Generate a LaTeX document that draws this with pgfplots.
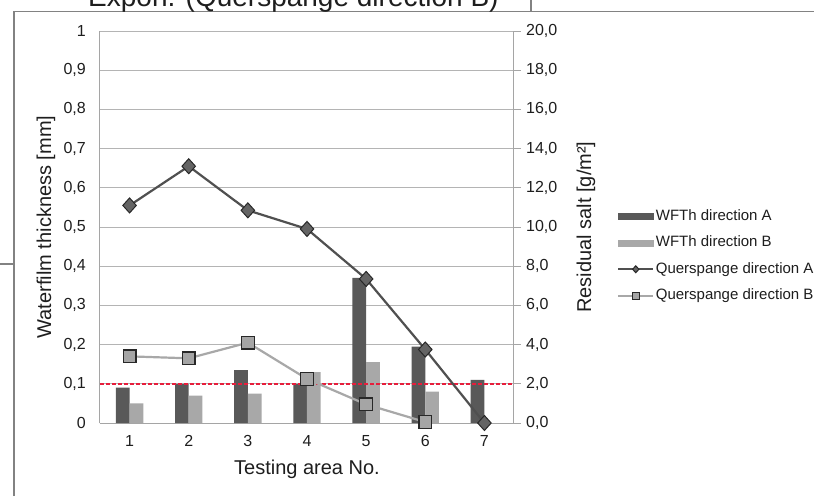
\documentclass[border=0pt]{standalone}
\usepackage{fontspec}
\setmainfont{Liberation Sans}
\usepackage{pgfplots}
\pgfplotsset{compat=1.18}
\definecolor{barA}{RGB}{89,89,89}
\definecolor{barB}{RGB}{168,168,168}
\definecolor{lineA}{RGB}{80,80,80}
\definecolor{lineB}{RGB}{168,168,168}
\definecolor{markA}{RGB}{100,100,100}
\definecolor{markB}{RGB}{165,165,165}
\definecolor{edge}{RGB}{40,40,40}
\definecolor{redl}{RGB}{230,30,60}
\definecolor{gridc}{RGB}{180,180,180}
\definecolor{axc}{RGB}{165,165,165}
\definecolor{framec}{RGB}{130,130,130}
\definecolor{txt}{RGB}{30,30,30}
\begin{document}
\begin{tikzpicture}[x=1pt,y=1pt]
\fill[white] (0,0) rectangle (814,496);

\begin{axis}[
  at={(100pt,73pt)}, anchor=south west, scale only axis,
  width=414pt, height=392pt,
  xmin=0.5, xmax=7.5, ymin=0, ymax=1,
  xtick={1,2,3,4,5,6,7},
  ytick={0,0.1,0.2,0.3,0.4,0.5,0.6,0.7,0.8,0.9,1},
  axis x line*=bottom, axis y line*=left,
  axis line style={draw=axc, line width=1pt, -},
  tick style={draw=none}, major tick length=0pt,
  ymajorgrids, grid style={gridc, line width=0.9pt},
  /pgf/number format/use comma,
  /pgf/number format/fixed,
  /pgf/number format/assume math mode=true,
  tick label style={font=\fontsize{16}{19}\selectfont, text=txt},
  yticklabel style={anchor=east, inner sep=0pt, xshift=-14pt},
  xticklabel style={anchor=north, inner sep=0pt, yshift=-12pt},
  xlabel={Testing area No.},
  xlabel style={at={(axis description cs:0.5,0)}, anchor=base, yshift=-51pt, font=\fontsize{20}{24}\selectfont, text=txt},
  ylabel={Waterfilm thickness [mm]},
  ylabel style={at={(axis description cs:-0.118,0.5)}, anchor=base, font=\fontsize{20}{24}\selectfont, text=txt},
]
\addplot[ybar, bar width=13.7pt, bar shift=-6.85pt, fill=barA, draw=none]
  coordinates {(1,0.09) (2,0.10) (3,0.135) (4,0.10) (5,0.37) (6,0.195) (7,0.11)};
\addplot[ybar, bar width=13.7pt, bar shift=6.85pt, fill=barB, draw=none]
  coordinates {(1,0.05) (2,0.07) (3,0.075) (4,0.13) (5,0.155) (6,0.08) (7,0)};
\addplot[draw=redl, line width=1.4pt, dash pattern=on 4pt off 2pt, sharp plot, no markers]
  coordinates {(0.5,0.1) (7.55,0.1)};
\end{axis}

\begin{axis}[
  at={(100pt,73pt)}, anchor=south west, scale only axis,
  width=414pt, height=392pt,
  xmin=0.5, xmax=7.5, ymin=0, ymax=20,
  clip=false,
  axis x line=none, axis y line*=right,
  axis line style={draw=axc, line width=1pt, -},
  ytick={0,2,4,6,8,10,12,14,16,18,20},
  tick align=outside, major tick length=7pt,
  ytick style={draw=axc, line width=0.9pt},
  /pgf/number format/use comma,
  /pgf/number format/fixed,
  /pgf/number format/fixed zerofill,
  /pgf/number format/precision=1,
  /pgf/number format/assume math mode=true,
  tick label style={font=\fontsize{16}{19}\selectfont, text=txt},
  yticklabel style={anchor=west, inner sep=0pt, xshift=5pt},
  ylabel={Residual salt [g/m²]},
  ylabel style={at={(axis description cs:1.186,0.5)}, anchor=base, font=\fontsize{20}{24}\selectfont, text=txt},
  legend image code/.code={\draw[mark repeat=2,mark phase=2,#1,mark size=3.5pt] plot coordinates {(0pt,0pt) (17.5pt,0pt) (35pt,0pt)};},
  legend style={at={(axis description cs:1.2415,0.426)}, anchor=west, draw=none, fill=none,
    font=\fontsize{15}{18}\selectfont, text=txt, row sep=9.5pt,
    nodes={inner sep=1.5pt, text height=11pt, text depth=3pt}},
  legend cell align=left,
]
\addlegendimage{legend image code/.code={\fill[barA] (0pt,-3pt) rectangle (35pt,3pt);}}
\addlegendentry{WFTh direction A}
\addlegendimage{legend image code/.code={\fill[barB] (0pt,-3pt) rectangle (35pt,3pt);}}
\addlegendentry{WFTh direction B}
\addplot[lineA, line width=2.2pt, mark=diamond*, mark size=7.5pt,
  mark options={fill=markA, draw=edge, line width=1pt, solid, xscale=1.2}]
  coordinates {(1,11.1) (2,13.1) (3,10.85) (4,9.9) (5,7.35) (6,3.75) (7,0)};
\addlegendentry{Querspange direction A}
\addplot[lineB, line width=2.2pt, mark=square*, mark size=6.3pt,
  mark options={fill=markB, draw=edge, line width=1.3pt, solid}]
  coordinates {(1,3.4) (2,3.3) (3,4.1) (4,2.25) (5,0.95) (6,0.05)};
\addlegendentry{Querspange direction B}
\end{axis}

% surrounding frame (screenshot)
\draw[framec, line width=1.3pt] (14,0) -- (14,484.5) -- (814,484.5);
\draw[framec, line width=1.3pt] (531,484.5) -- (531,496);
\draw[framec, line width=1.3pt] (0,232) -- (14,232);
\begin{scope}
\clip (0,0) rectangle (814,496);
\node[anchor=base west, inner sep=0pt, font=\fontsize{28}{30}\selectfont, text=txt] at (88,489.5) {Expon. (Querspange direction B)};
\end{scope}
\pgfresetboundingbox
\useasboundingbox (0,0) rectangle (814,496);
\end{tikzpicture}
\end{document}
